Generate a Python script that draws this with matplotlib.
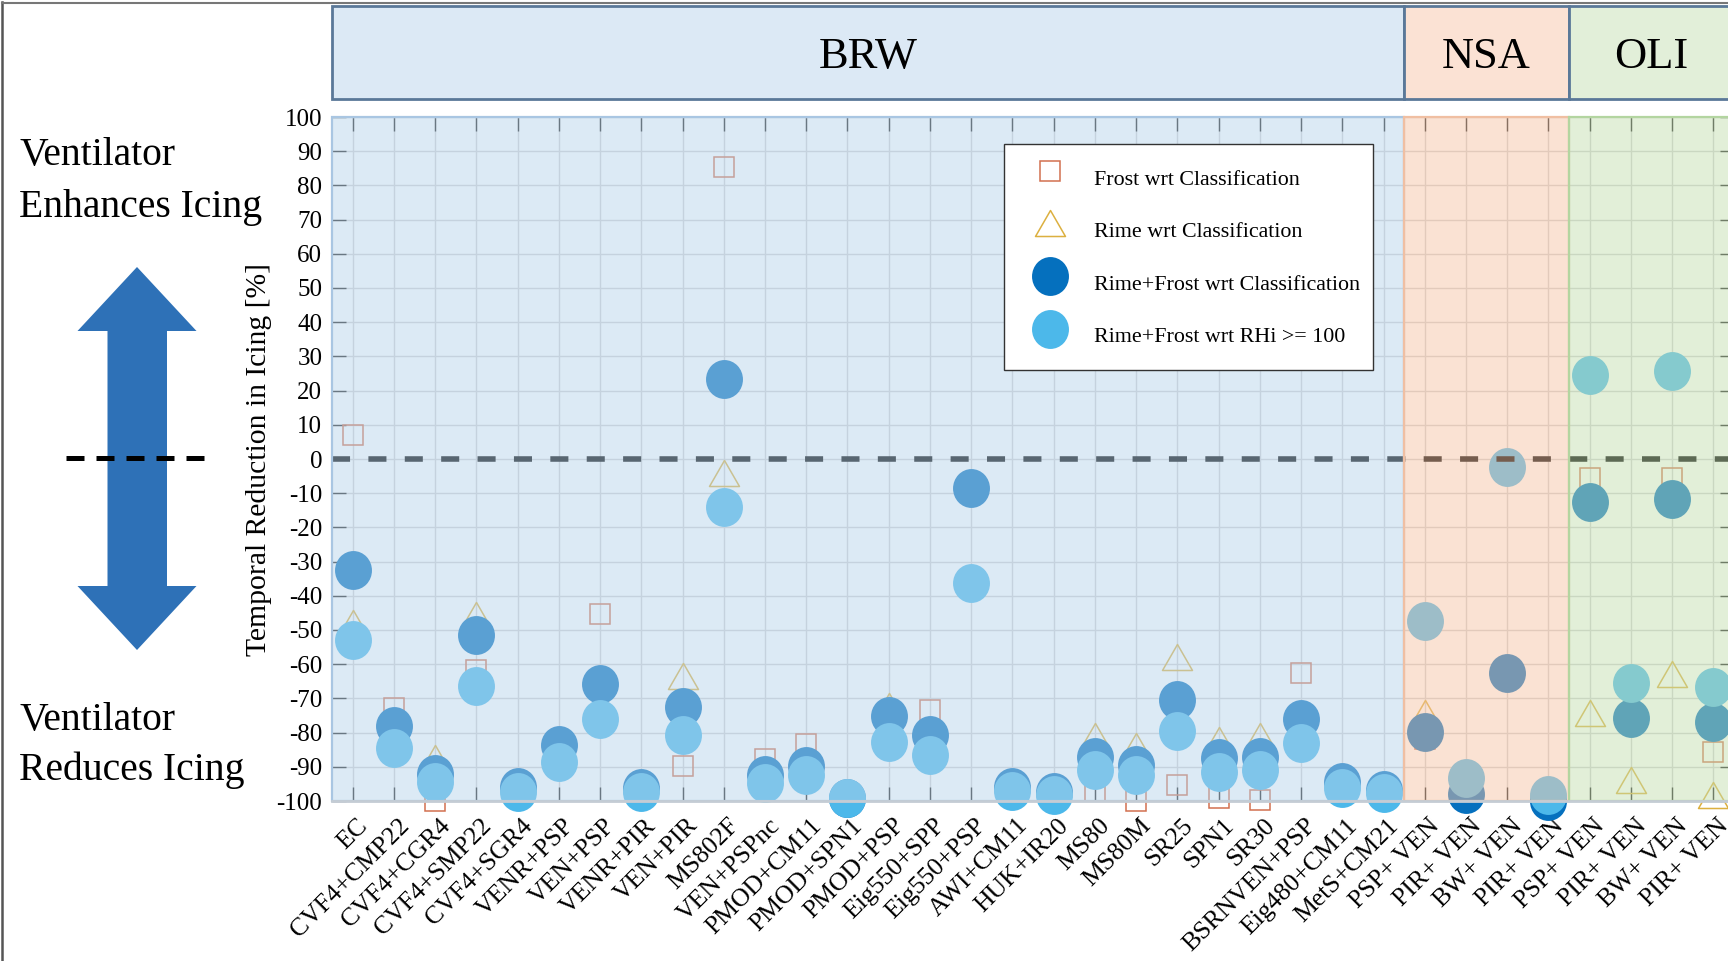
import numpy as np
import matplotlib
matplotlib.use('Agg')
import matplotlib.pyplot as plt
from matplotlib.path import Path
from matplotlib.transforms import Affine2D, ScaledTranslation
from matplotlib.patches import Polygon, Rectangle

plt.rcParams['font.family'] = ['Liberation Serif', 'DejaVu Serif']
plt.rcParams['axes.unicode_minus'] = False

# ---------------- data ----------------
brw_labels = ['EC', 'CVF4+CMP22', 'CVF4+CGR4', 'CVF4+SMP22', 'CVF4+SGR4', 'VENR+PSP',
              'VEN+PSP', 'VENR+PIR', 'VEN+PIR', 'MS802F', 'VEN+PSPnc', 'PMOD+CM11',
              'PMOD+SPN1', 'PMOD+PSP', 'Eig550+SPP', 'Eig550+PSP', 'AWI+CM11', 'HUK+IR20',
              'MS80', 'MS80M', 'SR25', 'SPN1', 'SR30', 'BSRNVEN+PSP', 'Eig480+CM11', 'MetS+CM21']
nsa_labels = ['PSP+ VEN', 'PIR+ VEN', 'BW+ VEN', 'PIR+ VEN']
oli_labels = ['PSP+ VEN', 'PIR+ VEN', 'BW+ VEN', 'PIR+ VEN']
site_names = ['BRW', 'NSA', 'OLI']
labels = brw_labels + nsa_labels + oli_labels

nan = np.nan
frost = [7, -72.8, -100, -61.7, nan, nan, -45.4, nan, -89.9, 85.5,
         -87.8, -83.4, nan, nan, -73.4, nan, nan, nan, -97, -100,
         -95.4, -99.2, -99.7, -62.6, nan, nan,
         -82, nan, nan, nan,
         -5.6, nan, -5.6, -85.8]
rime = [-48, nan, -87.4, -45.5, nan, nan, nan, nan, -63.4, -4.1,
        nan, nan, nan, -72.3, nan, nan, nan, nan, -81, -84,
        -57.8, -82.2, -81, nan, nan, nan,
        -74.3, nan, nan, nan,
        -74.3, -94, -62.9, -98.2]
rf_class = [-32.5, -78, -92, -51.5, -96, -83.6, -65.8, -96.3, -72.6, 23.5,
            -92.5, -89.7, -99, -75, -80.7, -8.6, -96, -97.5, -87, -89.5,
            -70.5, -87.5, -87, -76, -94.3, -96.8,
            -79.7, -98, -62.5, -100,
            -12.5, -75.8, -11.7, -76.8]
rf_rhi = [-52.9, -84.6, -94.3, -66.3, -97.5, -88.5, -76.1, -97.3, -80.7, -13.9,
          -94.8, -92.4, -99.2, -82.7, -86.5, -36.4, -97, -98.2, -90.9, -92.4,
          -79.4, -91.4, -90.9, -83.1, -96.3, -97.8,
          -47.3, -93.4, -2.2, -98.2,
          24.6, -65.4, 25.8, -66.6]
series_names = ['Frost wrt Classification', 'Rime wrt Classification',
                'Rime+Frost wrt Classification', 'Rime+Frost wrt RHi >= 100']

# ---------------- figure ----------------
W, H, DPI = 1728, 961, 100
fig = plt.figure(figsize=(W / DPI, H / DPI), dpi=DPI)
fig.patch.set_facecolor('white')


def fx(px):
    return px / W


def fy(py):
    return 1 - py / H


AX_L, AX_R, AX_T, AX_B = 332, 1734, 117, 801
ax = fig.add_axes([fx(AX_L), fy(AX_B), (AX_R - AX_L) / W, (AX_B - AX_T) / H])
n = len(labels)
x = np.arange(n)
ax.set_xlim(-0.5, n - 0.5)
ax.set_ylim(-100, 100)
ax.set_facecolor('white')

# grid & ticks (below everything)
ax.set_axisbelow(True)
ax.grid(True, color='#d2d2d2', lw=1.0)
ax.set_xticks(x)
ax.set_yticks(np.arange(-100, 101, 10))
ax.tick_params(axis='both', direction='in', length=10, width=1.0, color='#222222',
               top=True, right=True, labelsize=18)
ax.tick_params(axis='y', pad=7)
ax.tick_params(axis='x', pad=5, labelsize=18.5)
ax.set_xticklabels(labels, rotation=45, ha='right', va='top', rotation_mode='anchor')
shift = ScaledTranslation(4.0 / DPI, -6.5 / DPI, fig.dpi_scale_trans)
for lab in ax.get_xticklabels():
    lab.set_transform(lab.get_transform() + shift)
for s in ax.spines.values():
    s.set_visible(False)

# markers
circ_path = Path.unit_circle().transformed(Affine2D().scale(0.95, 1.0))
tri_path = Path([(0, 0.867), (-1, -0.867), (1, -0.867), (0, 0.867)], closed=True)

sq_color = '#d27050'
tri_color = '#dcb040'
dark_color = '#0570be'
light_color = '#4cb8ea'

ax.plot(x, frost, ls='none', marker='s', ms=14.4, mfc='none', mec=sq_color, mew=1.1,
        clip_on=False, zorder=3, label=series_names[0])
ax.plot(x, rime, ls='none', marker=tri_path, ms=21.6, mfc='none', mec=tri_color, mew=1.1,
        clip_on=False, zorder=4, label=series_names[1])
ax.plot(x, rf_class, ls='none', marker=circ_path, ms=28, mfc=dark_color, mec=dark_color,
        mew=0, clip_on=False, zorder=5, label=series_names[2])
ax.plot(x, rf_rhi, ls='none', marker=circ_path, ms=28, mfc=light_color, mec=light_color,
        mew=0, clip_on=False, zorder=6, label=series_names[3])

# zero line
ax.axhline(0, color='black', lw=4, dashes=(3.25, 3.3), zorder=7)

# translucent site overlays
counts = [len(brw_labels), len(nsa_labels), len(oli_labels)]
ov_face = [(183 / 255, 212 / 255, 235 / 255, 0.482),
           (245 / 255, 195 / 255, 164 / 255, 0.482),
           (195 / 255, 222 / 255, 176 / 255, 0.482)]
ov_edge = ['#a9c6e2', '#f0bfa2', '#b3d5a0']
hdr_face = ['#dce9f5', '#fbe2d4', '#e2efd9']
starts = np.concatenate([[0], np.cumsum(counts)[:-1]])
for s0, c, fc, ec in zip(starts, counts, ov_face, ov_edge):
    p = ax.axvspan(s0 - 0.5, s0 + c - 0.5, facecolor=fc, edgecolor=ec, lw=1.6, zorder=8)
    p.set_clip_on(False)
ax.axhline(-100, color='#c4ccd4', lw=2.0, zorder=9, clip_on=False)

# legend
leg = ax.legend(loc='upper left', bbox_to_anchor=(fx(1004), fy(144)),
                bbox_transform=fig.transFigure, borderaxespad=0, fontsize=15.8,
                frameon=True, fancybox=False, edgecolor='#333333', framealpha=1,
                borderpad=0.6, handleheight=2.54, labelspacing=0.5,
                handlelength=2.99, handletextpad=0.51)
leg.get_frame().set_linewidth(1.0)
leg.set_zorder(20)

ax.set_ylabel('Temporal Reduction in Icing [%]', fontsize=21.3)
ax.yaxis.set_label_coords((272 - AX_L) / (AX_R - AX_L), 0.5)

# header boxes
hax = fig.add_axes([fx(AX_L), fy(99), (AX_R - AX_L) / W, (99 - 5.5) / H])
hax.set_xlim(-0.5, n - 0.5)
hax.set_ylim(0, 1)
hax.axis('off')
for s0, c, fc, name in zip(starts, counts, hdr_face, site_names):
    hax.add_patch(Rectangle((s0 - 0.5, 0), c, 1, facecolor=fc, edgecolor='#5a7898',
                            lw=2, clip_on=False))
    hax.text(s0 + (c - 1) / 2, 0.5, name, ha='center', va='center_baseline', fontsize=32)

# decorations (pixel space)
dax = fig.add_axes([0, 0, 1, 1])
dax.set_xlim(0, W)
dax.set_ylim(H, 0)
dax.axis('off')
dax.set_zorder(-1)
arrow = [(137, 267), (196.5, 331), (167, 331), (167, 586), (196.5, 586), (137, 650),
         (77.5, 586), (107.5, 586), (107.5, 331), (77.5, 331)]
dax.add_patch(Polygon(arrow, closed=True, facecolor='#2e71b7', edgecolor='none'))
dax.plot([66, 213], [458, 458], color='black', lw=3.6, dashes=(3.6, 2.4), solid_capstyle='butt')
dax.text(19, 165, 'Ventilator', fontsize=28.5, ha='left', va='baseline')
dax.text(19, 217, 'Enhances Icing', fontsize=28.5, ha='left', va='baseline')
dax.text(19, 730, 'Ventilator', fontsize=28.5, ha='left', va='baseline')
dax.text(19, 780, 'Reduces Icing', fontsize=28.5, ha='left', va='baseline')
dax.plot([2, 2], [H, 2], color='#555555', lw=1.8)
dax.plot([2, W], [2.5, 2.5], color='#777777', lw=1.5)

fig.savefig('out.png', dpi=DPI)
